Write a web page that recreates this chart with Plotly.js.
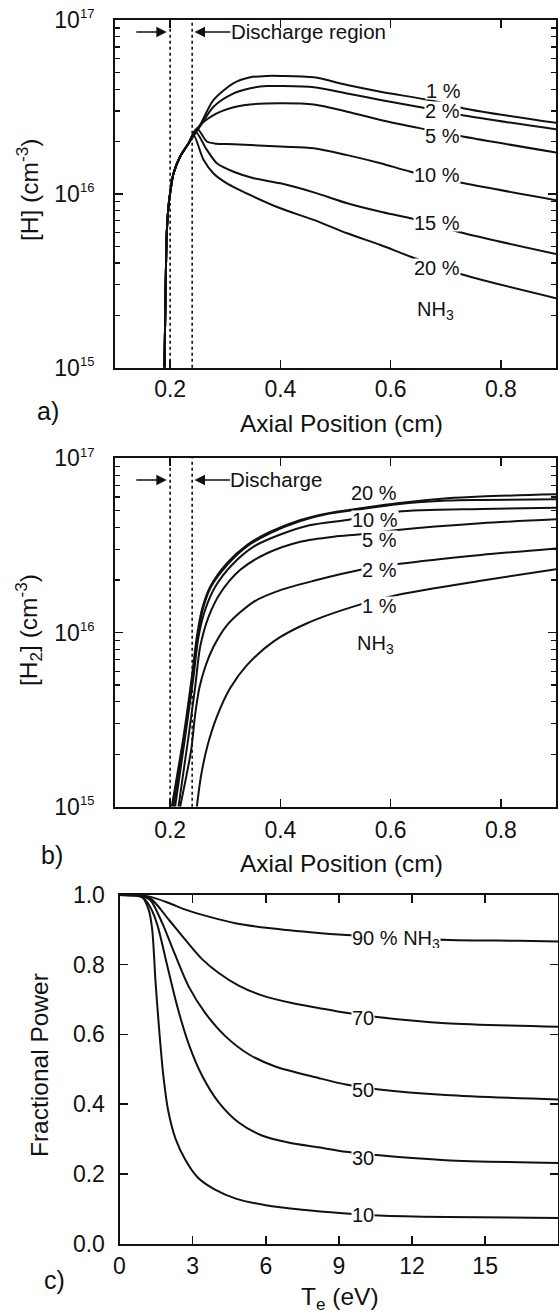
<!DOCTYPE html>
<html>
<head>
<meta charset="utf-8">
<script src="https://cdn.plot.ly/plotly-3.0.1.min.js"></script>
<style>
html,body{margin:0;padding:0;background:#fff;}
#chart{width:559px;height:1313px;}
</style>
</head>
<body>
<div id="chart"></div>
<script>
// ---------- Panel a: [H] vs axial position ----------
const aRiseX = [0.1897, 0.1915, 0.1939, 0.1970, 0.2000, 0.2061, 0.2182, 0.2333];
const aRiseY = [1.0e15, 2.44e15, 5.93e15, 8.43e15, 1.01e16, 1.31e16, 1.64e16, 1.95e16];

const aH1x  = [0.2545, 0.2788, 0.3152, 0.3455, 0.3758, 0.4000, 0.4606, 0.5212, 0.5818, 0.6848, 0.7333, 0.9000];
const aH1y  = [2.49e16, 3.47e16, 4.33e16, 4.68e16, 4.77e16, 4.77e16, 4.68e16, 4.23e16, 3.87e16, 3.39e16, 3.10e16, 2.56e16];
const aH2x  = [0.2545, 0.2788, 0.3152, 0.3455, 0.3758, 0.4000, 0.4606, 0.5212, 0.5818, 0.6545, 0.7333, 0.9000];
const aH2y  = [2.45e16, 3.17e16, 3.78e16, 4.05e16, 4.17e16, 4.17e16, 4.10e16, 3.78e16, 3.47e16, 3.15e16, 2.82e16, 2.35e16];
const aH5x  = [0.2515, 0.2788, 0.3152, 0.3455, 0.4000, 0.4606, 0.5212, 0.5818, 0.6545, 0.7333, 0.9000];
const aH5y  = [2.43e16, 2.84e16, 3.15e16, 3.27e16, 3.32e16, 3.27e16, 2.97e16, 2.66e16, 2.38e16, 2.13e16, 1.73e16];
const aH10x = [0.2485, 0.2667, 0.2848, 0.3152, 0.4000, 0.4606, 0.5212, 0.5818, 0.6364, 0.7333, 0.9000];
const aH10y = [2.38e16, 2.00e16, 1.94e16, 1.93e16, 1.87e16, 1.83e16, 1.67e16, 1.50e16, 1.34e16, 1.15e16, 9.2e15];
const aH15x = [0.2455, 0.2667, 0.2848, 0.3152, 0.3515, 0.4000, 0.4606, 0.5212, 0.5818, 0.6364, 0.7333, 0.9000];
const aH15y = [2.28e16, 1.79e16, 1.50e16, 1.34e16, 1.23e16, 1.15e16, 1.02e16, 8.83e15, 7.89e15, 7.23e15, 5.93e15, 4.51e15];
const aH20x = [0.2424, 0.2606, 0.2788, 0.3030, 0.3515, 0.4000, 0.4606, 0.5212, 0.5818, 0.6364, 0.7333, 0.9000];
const aH20y = [2.18e16, 1.57e16, 1.31e16, 1.15e16, 9.64e15, 8.26e15, 7.08e15, 5.93e15, 5.08e15, 4.35e15, 3.41e15, 2.51e15];

// ---------- Panel b: [H2] vs axial position ----------
const bH20x = [0.2030, 0.2242, 0.2394, 0.2485, 0.2576, 0.2727, 0.3030, 0.3394, 0.3818, 0.4364, 0.4848, 0.5455, 0.6121, 0.7030, 0.7636, 0.9000];
const bH20y = [1.0e15, 2.52e15, 5.57e15, 9.46e15, 1.35e16, 1.83e16, 2.50e16, 3.18e16, 3.79e16, 4.43e16, 4.83e16, 5.16e16, 5.52e16, 5.89e16, 6.03e16, 6.21e16];
const bH15x = [0.2060, 0.2262, 0.2409, 0.2500, 0.2591, 0.2742, 0.3045, 0.3394, 0.3818, 0.4364, 0.4848, 0.5455, 0.6121, 0.7030, 0.7636, 0.9000];
const bH15y = [1.0e15, 2.52e15, 5.57e15, 9.46e15, 1.35e16, 1.83e16, 2.46e16, 3.12e16, 3.72e16, 4.36e16, 4.78e16, 5.10e16, 5.45e16, 5.72e16, 5.77e16, 5.82e16];
const bH10x = [0.2091, 0.2273, 0.2424, 0.2515, 0.2636, 0.2818, 0.3121, 0.3515, 0.4000, 0.4545, 0.5212, 0.6121, 0.7636, 0.9000];
const bH10y = [1.0e15, 2.52e15, 5.57e15, 9.46e15, 1.35e16, 1.83e16, 2.44e16, 3.11e16, 3.65e16, 4.14e16, 4.43e16, 4.94e16, 5.12e16, 5.21e16];
const bH5x  = [0.2152, 0.2333, 0.2455, 0.2545, 0.2697, 0.2909, 0.3273, 0.3758, 0.4364, 0.4970, 0.5455, 0.6121, 0.7636, 0.9000];
const bH5y  = [1.0e15, 2.52e15, 4.89e15, 8.28e15, 1.23e16, 1.68e16, 2.29e16, 2.85e16, 3.32e16, 3.55e16, 3.66e16, 3.88e16, 4.24e16, 4.47e16];
const bH2x  = [0.2182, 0.2382, 0.2455, 0.2530, 0.2640, 0.2780, 0.3030, 0.3515, 0.4000, 0.4606, 0.5455, 0.6121, 0.7636, 0.9000];
const bH2y  = [1.0e15, 2.12e15, 3.40e15, 4.80e15, 6.40e15, 8.20e15, 1.10e16, 1.50e16, 1.75e16, 1.98e16, 2.29e16, 2.47e16, 2.79e16, 3.04e16];
const bH1x  = [0.2485, 0.2560, 0.2680, 0.2850, 0.3090, 0.3394, 0.3879, 0.4485, 0.5455, 0.6121, 0.7636, 0.9000];
const bH1y  = [1.0e15, 1.50e15, 2.25e15, 3.30e15, 4.80e15, 6.50e15, 8.9e15, 1.13e16, 1.45e16, 1.64e16, 1.98e16, 2.31e16];

// ---------- Panel c: fractional power vs Te ----------
const c10x = [0, 0.70, 0.934, 1.207, 1.343, 1.479, 1.620, 1.800, 2.000, 2.300, 2.700, 3.200, 3.900, 4.800, 6.000, 7.500, 9.154, 10.654, 13.400, 18];
const c10y = [1.0, 0.999, 0.994, 0.955, 0.900, 0.750, 0.620, 0.480, 0.380, 0.300, 0.240, 0.190, 0.155, 0.128, 0.110, 0.097, 0.087, 0.0805, 0.076, 0.073];
const c30x = [0, 0.60, 1.000, 1.300, 1.550, 1.950, 2.370, 2.850, 3.400, 4.070, 4.890, 5.840, 6.930, 8.160, 9.291, 10.654, 13.381, 18];
const c30y = [1.0, 0.999, 0.990, 0.960, 0.915, 0.800, 0.680, 0.570, 0.480, 0.405, 0.347, 0.310, 0.290, 0.276, 0.263, 0.253, 0.239, 0.231];
const c50x = [0, 0.60, 1.000, 1.275, 1.750, 2.300, 2.840, 3.520, 4.340, 5.300, 6.390, 8.160, 9.291, 10.654, 13.381, 18];
const c50y = [1.0, 0.999, 0.995, 0.985, 0.920, 0.825, 0.737, 0.661, 0.595, 0.543, 0.508, 0.475, 0.456, 0.442, 0.426, 0.413];
const c70x = [0, 0.60, 1.000, 1.343, 2.025, 2.706, 3.388, 4.070, 4.888, 5.842, 7.070, 8.160, 9.291, 10.654, 13.381, 18];
const c70y = [1.0, 0.999, 0.997, 0.986, 0.929, 0.871, 0.816, 0.776, 0.740, 0.712, 0.690, 0.676, 0.662, 0.649, 0.632, 0.622];
const c90x = [0, 0.60, 1.200, 2.025, 2.706, 3.660, 4.751, 6.115, 8.160, 9.154, 13.517, 16.380, 18];
const c90y = [1.0, 0.999, 0.996, 0.977, 0.958, 0.938, 0.919, 0.905, 0.891, 0.886, 0.871, 0.8686, 0.8667];

// ticks / discharge bounds
const dischargeBounds = [0.2, 0.24];
const axialTicks = [0.2, 0.4, 0.6, 0.8];
const axialTickText = ['0.2', '0.4', '0.6', '0.8'];
const logTicks = [1e15, 1e16, 1e17];
const logTickText = ['10<sup><span style="font-size:13px">15</span></sup>', '10<sup><span style="font-size:13px">16</span></sup>', '10<sup><span style="font-size:13px">17</span></sup>'];
const teTicks = [0, 3, 6, 9, 12, 15];
const fracTicks = [0, 0.2, 0.4, 0.6, 0.8, 1.0];
const fracTickText = ['0.0', '0.2', '0.4', '0.6', '0.8', '1.0'];
const logMinor = [];
[1e15, 1e16].forEach(d => { for (let k = 2; k <= 9; k++) logMinor.push(k * d); });

const FONT = 'Liberation Sans, Arial, Helvetica, sans-serif';
const W = 559, H = 1313;
const px = v => v / W;
const py = v => 1 - v / H;

const lineStyle = {color: '#111', width: 2, shape: 'spline', smoothing: 0.8};
function tr(x, y, xa, ya) {
  return {x: x, y: y, xaxis: xa, yaxis: ya, type: 'scatter', mode: 'lines', line: lineStyle, hoverinfo: 'skip', showlegend: false};
}

const traces = [
  tr(aRiseX.concat(aH1x), aRiseY.concat(aH1y), 'x', 'y'),
  tr(aRiseX.concat(aH2x), aRiseY.concat(aH2y), 'x', 'y'),
  tr(aRiseX.concat(aH5x), aRiseY.concat(aH5y), 'x', 'y'),
  tr(aRiseX.concat(aH10x), aRiseY.concat(aH10y), 'x', 'y'),
  tr(aRiseX.concat(aH15x), aRiseY.concat(aH15y), 'x', 'y'),
  tr(aRiseX.concat(aH20x), aRiseY.concat(aH20y), 'x', 'y'),
  tr(bH20x, bH20y, 'x2', 'y2'),
  tr(bH15x, bH15y, 'x2', 'y2'),
  tr(bH10x, bH10y, 'x2', 'y2'),
  tr(bH5x, bH5y, 'x2', 'y2'),
  tr(bH2x, bH2y, 'x2', 'y2'),
  tr(bH1x, bH1y, 'x2', 'y2'),
  tr(c10x, c10y, 'x3', 'y3'),
  tr(c30x, c30y, 'x3', 'y3'),
  tr(c50x, c50y, 'x3', 'y3'),
  tr(c70x, c70y, 'x3', 'y3'),
  tr(c90x, c90y, 'x3', 'y3')
];

const tickFont = {family: FONT, size: 23, color: '#111'};
const axBase = {
  showline: true, linewidth: 2, linecolor: '#111', mirror: 'ticks',
  ticks: 'inside', ticklen: 8, tickwidth: 1.5, tickcolor: '#111',
  showgrid: false, zeroline: false, tickfont: tickFont,
  fixedrange: true
};
function ax(extra) { return Object.assign({}, axBase, extra); }

const logY = (dom, anchor) => ax({
  type: 'log', range: [15, 17], domain: dom, anchor: anchor, ticklabelstandoff: 14,
  tickmode: 'array', tickvals: logTicks, ticktext: logTickText,
  minor: {tickmode: 'array', tickvals: logMinor, ticks: 'inside', ticklen: 5, tickwidth: 1.2, tickcolor: '#111'}
});

const layout = {
  width: W, height: H,
  margin: {l: 0, r: 0, t: 0, b: 0, pad: 0},
  paper_bgcolor: '#fff', plot_bgcolor: '#fff',
  font: {family: FONT, color: '#111'},
  showlegend: false,
  xaxis: ax({domain: [px(115), px(556)], range: [0.1, 0.9], anchor: 'y', ticklabelstandoff: 0, tickmode: 'array', tickvals: axialTicks, ticktext: axialTickText}),
  yaxis: logY([py(367.7), py(20)], 'x'),
  xaxis2: ax({domain: [px(115), px(556)], range: [0.1, 0.9], anchor: 'y2', ticklabelstandoff: 2, tickmode: 'array', tickvals: axialTicks, ticktext: axialTickText}),
  yaxis2: logY([py(806.7), py(458.3)], 'x2'),
  xaxis3: ax({domain: [px(119.5), px(558.3)], range: [0, 18], anchor: 'y3', ticklabelstandoff: 1, tickmode: 'array', tickvals: teTicks, ticktext: teTicks.map(String)}),
  yaxis3: ax({domain: [py(1243.5), py(895)], range: [0, 1], anchor: 'x3', ticklabelstandoff: 8, tickmode: 'array', tickvals: fracTicks, ticktext: fracTickText}),
  shapes: [],
  annotations: []
};

// discharge region dotted lines (panels a and b)
['', '2'].forEach(s => {
  dischargeBounds.forEach(b => {
    layout.shapes.push({type: 'line', xref: 'x' + s, yref: 'y' + s + ' domain', x0: b, x1: b, y0: 0, y1: 1,
      line: {color: '#111', width: 1.6, dash: 'dot'}});
  });
});

const A = layout.annotations;
const titleFont = {family: FONT, size: 24.5, color: '#111'};
const labFont = {family: FONT, size: 20, color: '#111'};
function paperText(text, x, y, opts) {
  A.push(Object.assign({xref: 'paper', yref: 'paper', x: px(x), y: py(y), text: text, showarrow: false,
    xanchor: 'center', yanchor: 'middle', font: titleFont}, opts || {}));
}
function dataText(text, xr, yr, x, y, mask, opts) {
  const o = {xref: xr, yref: yr, x: x, y: y, text: text, showarrow: false, xanchor: 'center', yanchor: 'middle', font: labFont};
  if (mask) { o.bgcolor = '#fff'; o.borderpad = 0; o.height = 17; }
  A.push(Object.assign(o, opts || {}));
}

// axis titles & panel labels
paperText('[H] (cm<sup>-3</sup>)', 28, 190, {textangle: -90});
paperText('Axial Position (cm)', 341, 423);
paperText('a)', 48, 411, {font: {family: FONT, size: 25, color: '#111'}});
paperText('[H<sub>2</sub>] (cm<sup>-3</sup>)', 28, 630, {textangle: -90});
paperText('Axial Position (cm)', 341, 863);
paperText('b)', 52, 855, {font: {family: FONT, size: 25, color: '#111'}});
paperText('Fractional Power', 39, 1065, {textangle: -90});
paperText('T<sub>e</sub> (eV)', 340, 1298);
paperText('c)', 54, 1280, {font: {family: FONT, size: 25, color: '#111'}});

// panel a curve labels (y in log10 units)
dataText('1 %', 'x', 'y', 0.6955, 16.597, true);
dataText('2 %', 'x', 'y', 0.694, 16.477, true);
dataText('5 %', 'x', 'y', 0.694, 16.334, true);
dataText('10 %', 'x', 'y', 0.684, 16.114, true);
dataText('15 %', 'x', 'y', 0.684, 15.835, true);
dataText('20 %', 'x', 'y', 0.684, 15.576, true);
dataText('NH<sub>3</sub>', 'x', 'y', 0.682, 15.33, false);

// panel b curve labels
dataText('20 %', 'x2', 'y2', 0.5697, 16.801, false);
dataText('10 %', 'x2', 'y2', 0.571, 16.650, true);
dataText('5 %', 'x2', 'y2', 0.5803, 16.536, true);
dataText('2 %', 'x2', 'y2', 0.5803, 16.363, true);
dataText('1 %', 'x2', 'y2', 0.5803, 16.153, true);
dataText('NH<sub>3</sub>', 'x2', 'y2', 0.5727, 15.93, false);

// panel c curve labels
dataText('90 % NH<sub>3</sub>', 'x3', 'y3', 11.36, 0.872, true);
dataText('70', 'x3', 'y3', 10.0, 0.649, true);
dataText('50', 'x3', 'y3', 10.0, 0.442, true);
dataText('30', 'x3', 'y3', 10.0, 0.246, true);
dataText('10', 'x3', 'y3', 10.0, 0.083, true);

// discharge arrows
const arrowStyle = {showarrow: true, arrowhead: 2, arrowsize: 1.4, arrowwidth: 1.5, arrowcolor: '#111', standoff: 0, ay: 0};
A.push(Object.assign({xref: 'x', yref: 'y', x: 0.194, y: 16.931, ax: -32, text: ''}, arrowStyle));
A.push(Object.assign({xref: 'x', yref: 'y', x: 0.2442, y: 16.931, ax: 114, text: 'Discharge region', font: {family: FONT, size: 20.5, color: '#111'}, borderpad: 0}, arrowStyle));
A.push(Object.assign({xref: 'x2', yref: 'y2', x: 0.194, y: 16.876, ax: -32, text: ''}, arrowStyle));
A.push(Object.assign({xref: 'x2', yref: 'y2', x: 0.2442, y: 16.876, ax: 82, text: 'Discharge', font: {family: FONT, size: 20.5, color: '#111'}, borderpad: 0}, arrowStyle));

Plotly.newPlot('chart', traces, layout, {staticPlot: true, displayModeBar: false});
</script>
</body>
</html>
